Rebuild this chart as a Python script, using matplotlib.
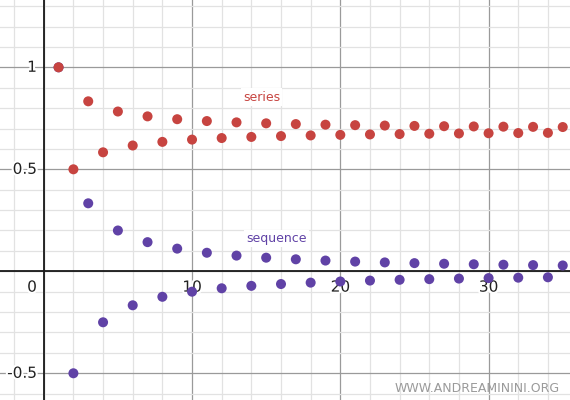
import matplotlib
matplotlib.use("Agg")
import matplotlib.pyplot as plt
from matplotlib.ticker import MultipleLocator
import matplotlib.patheffects as pe

n_values = list(range(1, 36))
sequence = [1, -0.5, 0.3333, -0.25, 0.2, -0.1667, 0.1429, -0.125, 0.1111, -0.1,
            0.0909, -0.0833, 0.0769, -0.0714, 0.0667, -0.0625, 0.0588, -0.0556,
            0.0526, -0.05, 0.0476, -0.0455, 0.0435, -0.0417, 0.04, -0.0385,
            0.037, -0.0357, 0.0345, -0.0333, 0.0323, -0.0313, 0.0303, -0.0294, 0.0286]
series = [1, 0.5, 0.8333, 0.5833, 0.7833, 0.6167, 0.7595, 0.6345, 0.7456, 0.6456,
          0.7365, 0.6532, 0.7301, 0.6587, 0.7254, 0.6629, 0.7217, 0.6661, 0.7188,
          0.6688, 0.7164, 0.6709, 0.7144, 0.6727, 0.7127, 0.6743, 0.7113, 0.6756,
          0.7101, 0.6768, 0.7090, 0.6778, 0.7081, 0.6787, 0.7072]
x_ticks = [10, 20, 30]
x_tick_labels = ["10", "20", "30"]
y_ticks = [1, 0.5, -0.5]
y_tick_labels = ["1", "0.5", "-0.5"]

RED = "#c74440"
PURPLE = "#6042a6"

fig = plt.figure(figsize=(5.7, 4.0), dpi=100)
ax = fig.add_axes([0, 0, 1, 1])
ax.set_xlim(-2.95, 35.49)
ax.set_ylim(-0.631, 1.33)
for s in ax.spines.values():
    s.set_visible(False)

# grid
ax.xaxis.set_major_locator(MultipleLocator(10))
ax.xaxis.set_minor_locator(MultipleLocator(2))
ax.yaxis.set_major_locator(MultipleLocator(0.5))
ax.yaxis.set_minor_locator(MultipleLocator(0.1))
ax.grid(which="minor", color="#e2e2e2", linewidth=0.9)
ax.grid(which="major", color="#9a9a9a", linewidth=0.9)
ax.tick_params(which="both", length=0, labelbottom=False, labelleft=False)
ax.set_axisbelow(True)
ax.axhline(0, color="#1a1a1a", linewidth=1.3, zorder=2)
ax.axvline(0, color="#1a1a1a", linewidth=1.3, zorder=2)

halo = [pe.withStroke(linewidth=3, foreground="white")]
for xv, lab in zip(x_ticks, x_tick_labels):
    ax.annotate(lab, (xv, 0), xytext=(0, -6), textcoords="offset points",
                ha="center", va="top", fontsize=11, color="#222222",
                path_effects=halo, zorder=3)
for yv, lab in zip(y_ticks, y_tick_labels):
    ax.annotate(lab, (0, yv), xytext=(-5, 0), textcoords="offset points",
                ha="right", va="center", fontsize=11, color="#222222",
                path_effects=halo, zorder=3)
ax.annotate("0", (0, 0), xytext=(-5, -6), textcoords="offset points",
            ha="right", va="top", fontsize=11, color="#222222",
            path_effects=halo, zorder=3)

ax.scatter(n_values, sequence, s=52, color=PURPLE, edgecolors="none", zorder=4)
ax.scatter(n_values, series, s=52, color=RED, edgecolors="none", zorder=5)

ax.text(14.7, 0.854, "series", color=RED, fontsize=9, ha="center", va="center",
        zorder=6, bbox=dict(facecolor="white", edgecolor="none", pad=1.5))
ax.text(15.7, 0.162, "sequence", color=PURPLE, fontsize=9, ha="center", va="center",
        zorder=6, bbox=dict(facecolor="white", edgecolor="none", pad=1.5))

fig.text(0.982, 0.012, "WWW.ANDREAMININI.ORG", ha="right", va="bottom",
         fontsize=9, color="#9a9a9a")

fig.savefig("out.png", dpi=100)
